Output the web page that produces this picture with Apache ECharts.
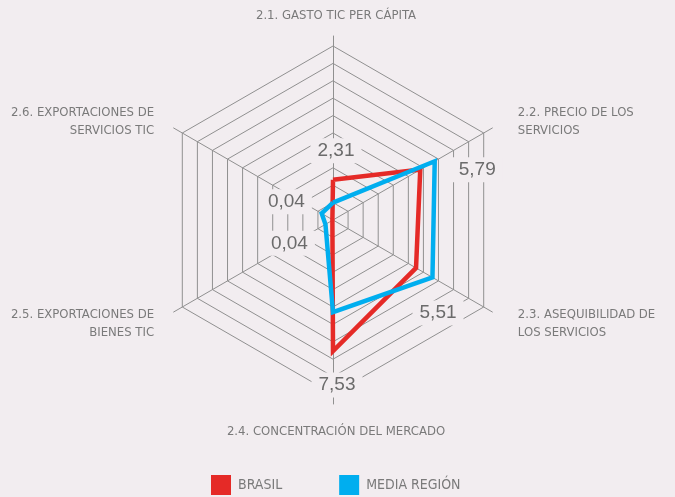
<!DOCTYPE html>
<html>
<head>
<meta charset="utf-8">
<script src="https://cdn.jsdelivr.net/npm/echarts@6/dist/echarts.min.js"></script>
<style>
html, body { margin: 0; padding: 0; background: #f2edf0; }
#chart { width: 675px; height: 497px; }
</style>
</head>
<body>
<div id="chart"></div>
<script>
// datos del gráfico (orden de los indicadores: 2.1 ... 2.6, en sentido horario)
var indicadores = [
    '2.1. GASTO TIC PER CÁPITA',
    '2.2. PRECIO DE LOS\nSERVICIOS',
    '2.3. ASEQUIBILIDAD DE\nLOS SERVICIOS',
    '2.4. CONCENTRACIÓN DEL MERCADO',
    '2.5. EXPORTACIONES DE\nBIENES TIC',
    '2.6. EXPORTACIONES DE\nSERVICIOS TIC'
];
var escalaMax = 10;
var brasil = [2.31, 5.79, 5.51, 7.53, 0.04, 0.04];
var mediaRegion = [1.0, 6.75, 6.6, 5.3, 0.5, 0.75];
var series = ['BRASIL', 'MEDIA REGIÓN'];

// echarts dibuja el radar en sentido antihorario: reordenar
var orden = [0, 5, 4, 3, 2, 1];
function reordenar(arr) { return orden.map(function (i) { return arr[i]; }); }

var fuenteNombre = "'Liberation Sans Narrow', 'DejaVu Sans Condensed', sans-serif";
var gris = '#909090';
var fondo = '#f2edf0';

// nombres laterales: los de arriba suben un poco, los de abajo bajan
var nombresArriba = [indicadores[1], indicadores[5]];
var nombresAbajo = [indicadores[2], indicadores[4]];

// desplazamiento de cada etiqueta respecto al vértice de Brasil
var desplEtiqueta = [[3, -29], [57, 0], [22, 45], [4, 34], [-43, 23], [-46, -18]];

var chart = echarts.init(document.getElementById('chart'));

var option = {
    backgroundColor: fondo,
    color: ['#e52a27', '#00aeef'],
    legend: {
        data: series,
        top: 470,
        left: 206,
        icon: 'rect',
        itemWidth: 20,
        itemHeight: 20,
        itemGap: 57,
        textStyle: { color: '#7a7a7a', fontSize: 14, fontFamily: fuenteNombre, padding: [0, 0, 0, 2] }
    },
    radar: [
        {
            // ejes y nombres
            center: [333, 220],
            radius: 184,
            splitNumber: 1,
            shape: 'polygon',
            indicator: reordenar(indicadores).map(function (n) { return { name: n, max: escalaMax }; }),
            axisName: {
                color: '#7a7a7a',
                fontSize: 13,
                fontFamily: fuenteNombre,
                lineHeight: 18,
                padding: [8, 10, 0, 16],
                formatter: function (nombre) {
                    if (nombresArriba.indexOf(nombre) >= 0) return nombre + '\n{spA|}';
                    if (nombresAbajo.indexOf(nombre) >= 0) return '{spB|}\n' + nombre;
                    return nombre;
                },
                rich: {
                    spA: { fontSize: 1, lineHeight: 10 },
                    spB: { fontSize: 1, lineHeight: 5 }
                }
            },
            nameGap: 11,
            axisLine: { lineStyle: { color: gris, width: 1 } },
            splitLine: { show: false },
            splitArea: { show: false }
        },
        {
            // anillos
            center: [333, 220],
            radius: 174,
            splitNumber: 10,
            shape: 'polygon',
            indicator: indicadores.map(function () { return { name: '', max: escalaMax }; }),
            axisName: { show: false },
            axisLine: { show: false },
            splitLine: { lineStyle: { color: gris, width: 1 } },
            splitArea: { show: false }
        }
    ],
    series: [{
        type: 'radar',
        radarIndex: 1,
        symbol: 'none',
        z: 3,
        data: [
            { name: series[0], value: reordenar(brasil), lineStyle: { width: 4.5, color: '#e52a27', join: 'miter' } },
            { name: series[1], value: reordenar(mediaRegion), lineStyle: { width: 4.5, color: '#00aeef', join: 'miter' } }
        ]
    }]
};
chart.setOption(option);

// etiquetas de valores de Brasil
var cs = chart.getModel().getComponent('radar', 1).coordinateSystem;
var etiquetas = brasil.map(function (v, i) {
    var p = cs.dataToPoint(v, orden.indexOf(i));
    return {
        type: 'text',
        z: 1,
        style: {
            text: v.toFixed(2).replace('.', ','),
            x: p[0] + desplEtiqueta[i][0],
            y: p[1] + desplEtiqueta[i][1],
            align: 'center',
            verticalAlign: 'middle',
            fill: '#6b6b6b',
            font: "19px 'Liberation Sans', 'DejaVu Sans', sans-serif",
            backgroundColor: fondo,
            padding: [3, 7]
        }
    };
});
chart.setOption({ graphic: etiquetas });
</script>
</body>
</html>
